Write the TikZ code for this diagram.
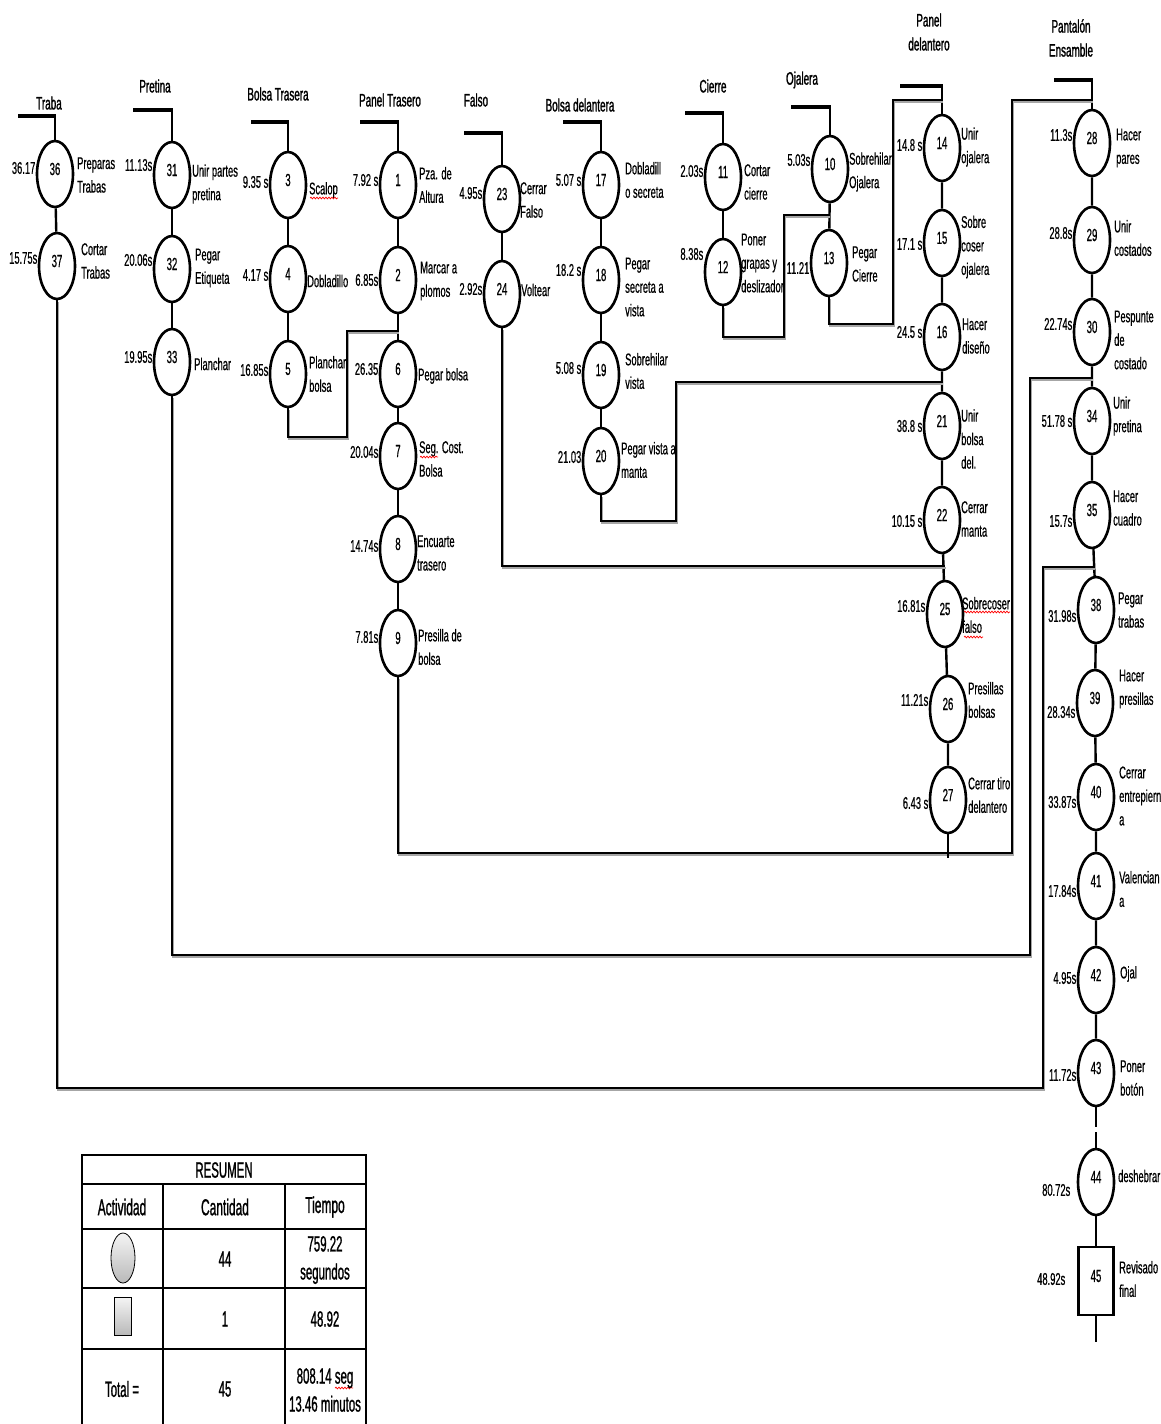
\documentclass[tikz,border=0pt]{standalone}
\usepackage{fontspec}
\setmainfont{Liberation Sans}[FakeStretch=0.55,FakeBold=0.6]
\newfontfamily\tabfont{Liberation Sans}[FakeStretch=0.52,FakeBold=1]
\newfontfamily\ttlfont{Liberation Sans}[FakeStretch=0.55,FakeBold=1.3]
\usetikzlibrary{shapes.geometric,decorations.pathmorphing}
\tikzset{
  opc/.style={ellipse, draw, line width=2.6pt, minimum width=36pt, minimum height=66pt, inner sep=0pt},
  boxop/.style={rectangle, draw, line width=2.6pt, minimum width=35pt, minimum height=68pt, inner sep=0pt},
  numt/.style={font=\fontsize{17.5}{19}\selectfont, inner sep=0pt},
  timt/.style={font=\fontsize{17}{19}\selectfont, anchor=east, inner sep=0.5pt},
  labt/.style={font=\fontsize{17}{23.5}\selectfont, anchor=west, align=left, inner sep=0pt},
  ttl/.style={font=\ttlfont\fontsize{18}{24}\selectfont, align=center, inner sep=0pt},
  conn/.style={line width=2.4pt},
  startl/.style={line width=4pt},
  merge/.style={line width=1.4pt},
  shadowl/.style={line width=2.2pt, draw=black!35},
  tab/.style={line width=1.3pt},
  tabh/.style={font=\tabfont\fontsize{23}{27}\selectfont, inner sep=0pt, align=center},
  tabv/.style={font=\tabfont\fontsize{22}{28}\selectfont, inner sep=0pt, align=center},
  wavy/.style={draw=red, line width=0.7pt, decorate, decoration={snake, amplitude=0.9pt, segment length=3pt}},
}
\newcommand{\opnode}[8]{%
  \node[opc] (n#1) at (#2,#3) {};
  \node[numt] (k#1) at ([yshift=5pt]n#1.center) {#1};
  \node[timt] (s#1) at (#2-19,#5) {#4};
  \node[labt] (l#1) at (#7,#8) {#6};
}
\newcommand{\startbar}[3]{%
  \coordinate (a#1) at (#2,#3);
  \coordinate (c#1) at (n#1.north |- a#1);
  \draw[startl] (a#1) -- ([xshift=1.2pt]c#1);
  \draw[conn] (c#1) -- (n#1);
}
% merge line with a soft shadow: #1 path
\newcommand{\mergepath}[1]{%
  \begin{scope}[transform canvas={shift={(1pt,-2pt)}}]
    \draw[shadowl] #1;
  \end{scope}
  \draw[merge] #1;
}
\begin{document}
\begin{tikzpicture}[x=1pt,y=-1pt]
\useasboundingbox (0,0) rectangle (1160,1424);

% titles
\node[ttl] (tTraba) at (49,103) {Traba};
\node[ttl] (tPretina) at (155,86) {Pretina};
\node[ttl] (tBolsaT) at (278,94) {Bolsa Trasera};
\node[ttl] (tPanelT) at (390,100) {Panel Trasero};
\node[ttl] (tFalso) at (476,100) {Falso};
\node[ttl] (tBolsaD) at (580,105) {Bolsa delantera};
\node[ttl] (tCierre) at (713,86) {Cierre};
\node[ttl] (tOjalera) at (802,80) {Ojalera};
\node[ttl] (tPanelD) at (929,32) {Panel\\delantero};
\node[ttl] (tPantalon) at (1071,38) {Pantalón\\Ensamble};

% Traba
\opnode{36}{55}{174}{36.17}{168}{Preparas\\Trabas}{77}{175}
\opnode{37}{57}{266}{15.75s}{258}{Cortar\\Trabas}{81}{261}
% Pretina
\opnode{31}{172}{175}{11.13s}{165}{Unir partes\\pretina}{192}{184}
\opnode{32}{172}{269}{20.06s}{260}{Pegar\\Etiqueta}{195}{268}
\opnode{33}{172}{362}{19.95s}{357}{Planchar}{194}{364}
% Bolsa trasera
\opnode{3}{288}{185}{9.35 s}{182}{Scalop}{309}{190}
\opnode{4}{288}{279}{4.17 s}{275}{Dobladillo}{307}{281}
\opnode{5}{288}{374}{16.85s}{370}{Planchar\\bolsa}{309}{374}
% Panel trasero
\opnode{1}{398}{185}{7.92 s}{180}{Pza. de\\Altura}{419}{185}
\opnode{2}{398}{280}{6.85s}{280}{Marcar a\\plomos}{420}{281}
\opnode{6}{398}{374}{26.35}{369}{Pegar bolsa}{418}{376}
\opnode{7}{398}{456}{20.04s}{452}{Seg. Cost.\\Bolsa}{419}{459}
\opnode{8}{398}{549}{14.74s}{546}{Encuarte\\trasero}{417}{553}
\opnode{9}{398}{643}{7.81s}{637}{Presilla de\\bolsa}{418}{647}
% Falso
\opnode{23}{502}{199}{4.95s}{193}{Cerrar\\Falso}{520}{200}
\opnode{24}{502}{294}{2.92s}{289}{Voltear}{521}{290}
% Bolsa delantera
\opnode{17}{601}{185}{5.07 s}{180}{Dobladill\\o secreta}{625}{180}
\opnode{18}{601}{280}{18.2 s}{270}{Pegar\\secreta a\\vista}{625}{287}
\opnode{19}{601}{375}{5.08 s}{368}{Sobrehilar\\vista}{625}{371}
\opnode{20}{601}{461}{21.03}{457}{Pegar vista a\\manta}{621}{460}
% Cierre
\opnode{11}{723}{177}{2.03s}{171}{Cortar\\cierre}{744}{182}
\opnode{12}{723}{272}{8.38s}{254}{Poner\\grapas y\\deslizador}{741}{263}
% Ojalera
\opnode{10}{830}{169}{5.03s}{160}{Sobrehilar\\Ojalera}{849}{172}
\opnode{13}{829}{263}{11.21}{268}{Pegar\\Cierre}{852}{264}
% Panel delantero
\opnode{14}{942}{148}{14.8 s}{145}{Unir\\ojalera}{961}{147}
\opnode{15}{942}{243}{17.1 s}{244}{Sobre\\coser\\ojalera}{961}{247}
\opnode{16}{942}{337}{24.5 s}{332}{Hacer\\diseño}{962}{336}
\opnode{21}{942}{426}{38.8 s}{426}{Unir\\bolsa\\del.}{961}{439}
\opnode{22}{942}{520}{10.15 s}{521}{Cerrar\\manta}{961}{519}
\opnode{25}{945}{614}{16.81s}{606}{Sobrecoser\\falso}{962}{615}
\opnode{26}{948}{709}{11.21s}{700}{Presillas\\bolsas}{968}{700}
\opnode{27}{948}{800}{6.43 s}{803}{Cerrar tiro\\delantero}{968}{795}
% Pantalon ensamble
\opnode{28}{1092}{143}{11.3s}{135}{Hacer\\pares}{1116}{148}
\opnode{29}{1092}{240}{28.8s}{233}{Unir\\costados}{1114}{238}
\opnode{30}{1092}{332}{22.74s}{324}{Pespunte\\de\\costado}{1114}{340}
\opnode{34}{1092}{421}{51.78 s}{421}{Unir\\pretina}{1113}{416}
\opnode{35}{1092}{515}{15.7s}{521}{Hacer\\cuadro}{1113}{508}
\opnode{38}{1096}{610}{31.98s}{616}{Pegar\\trabas}{1118}{610}
\opnode{39}{1095}{703}{28.34s}{712}{Hacer\\presillas}{1119}{689}
\opnode{40}{1096}{797}{33.87s}{802}{Cerrar\\entrepiern\\a}{1119}{796}
\opnode{41}{1096}{886}{17.84s}{891}{Valencian\\a}{1119}{889}
\opnode{42}{1096}{980}{4.95s}{978}{Ojal}{1120}{974}
\opnode{43}{1096}{1073}{11.72s}{1075}{Poner\\botón}{1120}{1078}
\node[opc] (n44) at (1096,1182) {};
\node[numt] (k44) at ([yshift=5pt]n44.center) {44};
\node[timt] (s44) at (1071,1190) {80.72s};
\node[labt] (l44) at (1118,1176) {deshebrar};
\node[boxop] (n45) at (1096,1281) {};
\node[numt] (k45) at ([yshift=5pt]n45.center) {45};
\node[timt] (s45) at (1066,1279) {48.92s};
\node[labt] (l45) at (1119,1279) {Revisado\\final};

% start bars
\startbar{36}{18}{116}
\startbar{31}{133}{110}
\startbar{3}{251}{122}
\startbar{1}{360}{122}
\startbar{23}{464}{133}
\startbar{17}{563}{122}
\startbar{11}{685}{113}
\startbar{10}{791}{107}
\startbar{14}{900}{86}
\startbar{28}{1054}{80}

% column connectors
\draw[conn] (n36) -- (n37);
\draw[conn] (n31) -- (n32) -- (n33);
\draw[conn] (n3) -- (n4) -- (n5);
\draw[conn] (n1) -- (n2) -- (n6) -- (n7) -- (n8) -- (n9);
\draw[conn] (n23) -- (n24);
\draw[conn] (n17) -- (n18) -- (n19) -- (n20);
\draw[conn] (n11) -- (n12);
\draw[conn] (n10) -- (n13);
\draw[conn] (n14) -- (n15) -- (n16) -- (n21) -- (n22) -- (n25) -- (n26) -- (n27);
\draw[conn] (n28) -- (n29) -- (n30) -- (n34) -- (n35) -- (n38) -- (n39) -- (n40) -- (n41) -- (n42) -- (n43);
\coordinate (g1) at (1096,1127);
\coordinate (g2) at (1096,1132);
\draw[conn] (n43) -- (g1);
\draw[conn] (g2) -- (n44);
\draw[conn] (n44) -- (n45);
\coordinate (e45) at (1096,1342);
\draw[conn] (n45) -- (e45);

% merge lines
\coordinate (j5) at (347,437);  \coordinate (m5) at (398,331);
\mergepath{(n5) |- (j5) |- (m5)}
\coordinate (j12) at (784,337); \coordinate (m12) at (829,215);
\mergepath{(n12) |- (j12) |- (m12)}
\coordinate (j13) at (893,324); \coordinate (m13) at (942,100);
\mergepath{(n13) |- (j13) |- (m13)}
\coordinate (j20) at (676,521); \coordinate (m20) at (942,382);
\mergepath{(n20) |- (j20) |- (m20)}
\coordinate (m24) at (945,566);
\mergepath{(n24) |- (m24)}
\coordinate (j9) at (1012,853); \coordinate (m9) at (1092,100);
\mergepath{(n9) |- (j9) |- (m9)}
\coordinate (e27) at (948,858);
\draw[merge] (n27) -- (e27);
\coordinate (j33) at (1030,955); \coordinate (m33) at (1092,378);
\mergepath{(n33) |- (j33) |- (m33)}
\coordinate (j37) at (1043,1088); \coordinate (m37) at (1094,567);
\mergepath{(n37) |- (j37) |- (m37)}

% red wavy underlines
\draw[wavy] (310,198) -- (338,198);
\draw[wavy] (420,457) -- (438,457);
\draw[wavy] (964,612) -- (1010,612);
\draw[wavy] (964,637) -- (983,637);
\draw[wavy] (335,1388) -- (353,1388);

% summary table
\draw[tab] (82,1424) |- (366,1155) -- (366,1424);
\draw[tab] (82,1184) -- (366,1184);
\draw[tab] (82,1229) -- (366,1229);
\draw[tab] (82,1288) -- (366,1288);
\draw[tab] (82,1349) -- (366,1349);
\draw[tab] (163,1184) -- (163,1424);
\draw[tab] (285,1184) -- (285,1424);
\node[tabv] (hRes) at (224,1170) {RESUMEN};
\node[tabh] (hAct) at (122,1207) {Actividad};
\node[tabh] (hCant) at (225,1207) {Cantidad};
\node[tabh] (hTiem) at (325,1207) {Tiempo};
\node[ellipse, draw, line width=0.8pt, top color=gray!8, bottom color=gray!55, minimum width=24pt, minimum height=50pt, inner sep=0pt] (icoC) at (123,1258) {};
\node[tabv] (c44) at (225,1259) {44};
\node[tabv] (t759) at (325,1260) {759.22\\segundos};
\node[rectangle, draw, line width=0.8pt, top color=gray!8, bottom color=gray!55, minimum width=17pt, minimum height=38pt, inner sep=0pt] (icoB) at (123,1316) {};
\node[tabv] (c1) at (225,1319) {1};
\node[tabv] (t48) at (325,1319) {48.92};
\node[tabv] (tTot) at (122,1389) {Total =};
\node[tabv] (c45) at (225,1389) {45};
\node[tabv] (t808) at (325,1390) {808.14 seg\\13.46 minutos};
\end{tikzpicture}
\end{document}
